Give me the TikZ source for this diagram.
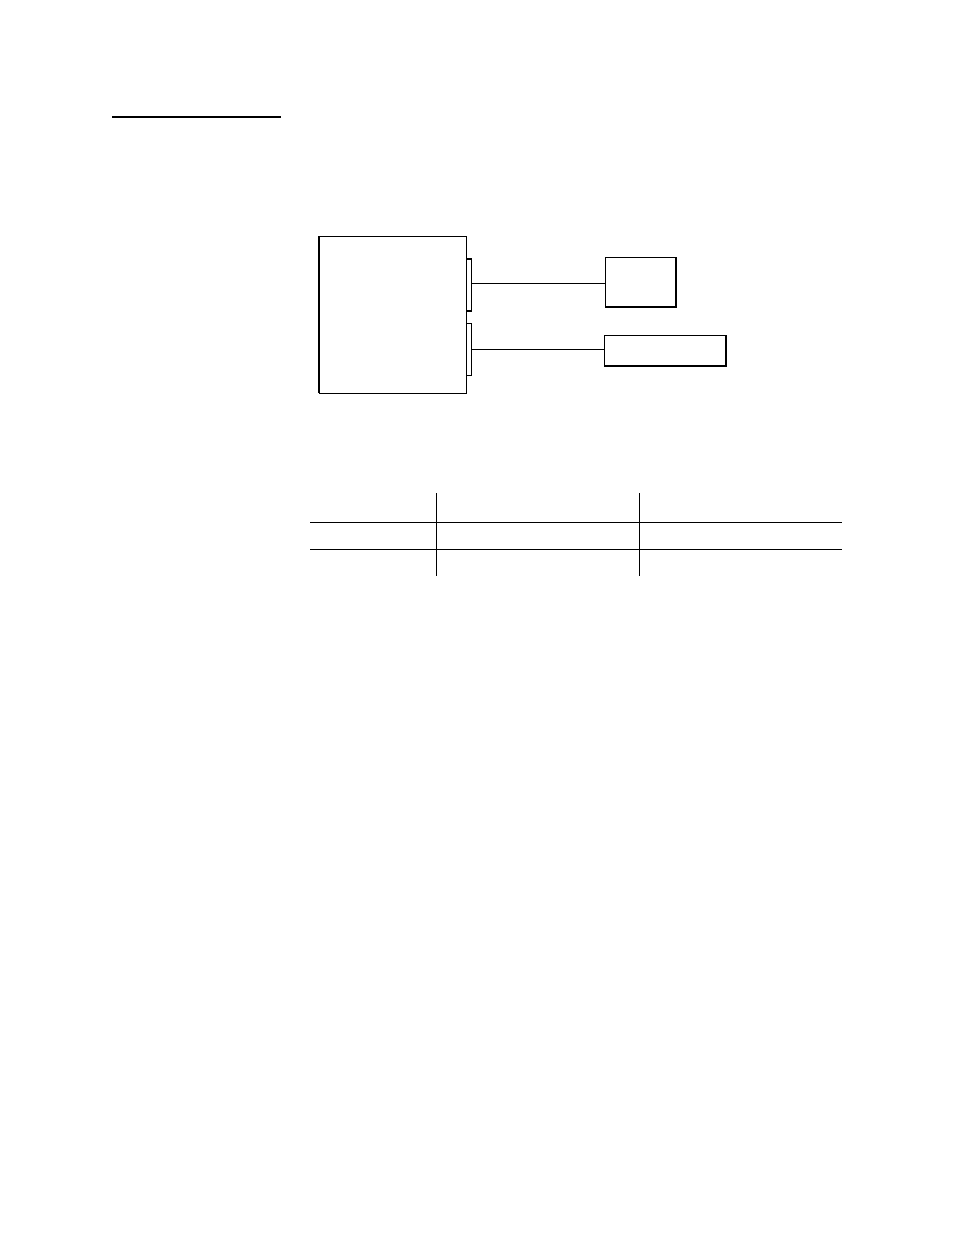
\documentclass[tikz,border=0pt]{standalone}
\begin{document}
\begin{tikzpicture}[x=1pt,y=-1pt,
  box/.style={draw,line width=1pt,inner sep=0pt,outer sep=0pt,anchor=north west},
  thin/.style={line width=1pt},
  rule/.style={line width=2pt}]
\useasboundingbox (0,0) rectangle (954,1235);
% title rule
\coordinate (r1) at (112,116.5);
\coordinate (r2) at (281,116.5);
\draw[rule] (r1) -- (r2);
% main unit
\node[box,minimum width=147pt,minimum height=157pt] (main) at (319,236) {};
\draw[line width=1.6pt] (main.north west) -- (main.south west);
% connector tabs
\node[box,minimum width=5pt,minimum height=52pt] (tabA) at (466.3,258.7) {};
\node[box,minimum width=5pt,minimum height=52pt] (tabB) at (466.3,323.3) {};
\draw[line width=1.6pt] (tabA.north west) -- (tabA.north east) -- (tabA.south east) -- (tabA.south west);
\draw[line width=1.6pt] (tabB.north west) -- (tabB.north east) -- (tabB.south east) -- (tabB.south west);
% devices
\node[box,minimum width=71pt,minimum height=49pt] (devA) at (605.3,257.7) {};
\draw[line width=2pt] (devA.north east) -- (devA.south east) -- (devA.south west);
\node[box,minimum width=121.7pt,minimum height=30.3pt] (devB) at (604.3,335.7) {};
\draw[line width=2pt] (devB.north east) -- (devB.south east) -- (devB.south west);
% cables
\draw[thin] (tabA.east |- 0,283) -- (devA.west |- 0,283);
\draw[thin] (tabB.east |- 0,349) -- (devB.west |- 0,349);
% table grid
\coordinate (h1a) at (310,522); \coordinate (h1b) at (842,522);
\coordinate (h2a) at (310,549); \coordinate (h2b) at (842,549);
\coordinate (v1a) at (436,493); \coordinate (v1b) at (436,576);
\coordinate (v2a) at (639,493); \coordinate (v2b) at (639,576);
\draw[thin] (h1a) -- (h1b);
\draw[thin] (h2a) -- (h2b);
\draw[thin] (v1a) -- (v1b);
\draw[thin] (v2a) -- (v2b);
\end{tikzpicture}
\end{document}
